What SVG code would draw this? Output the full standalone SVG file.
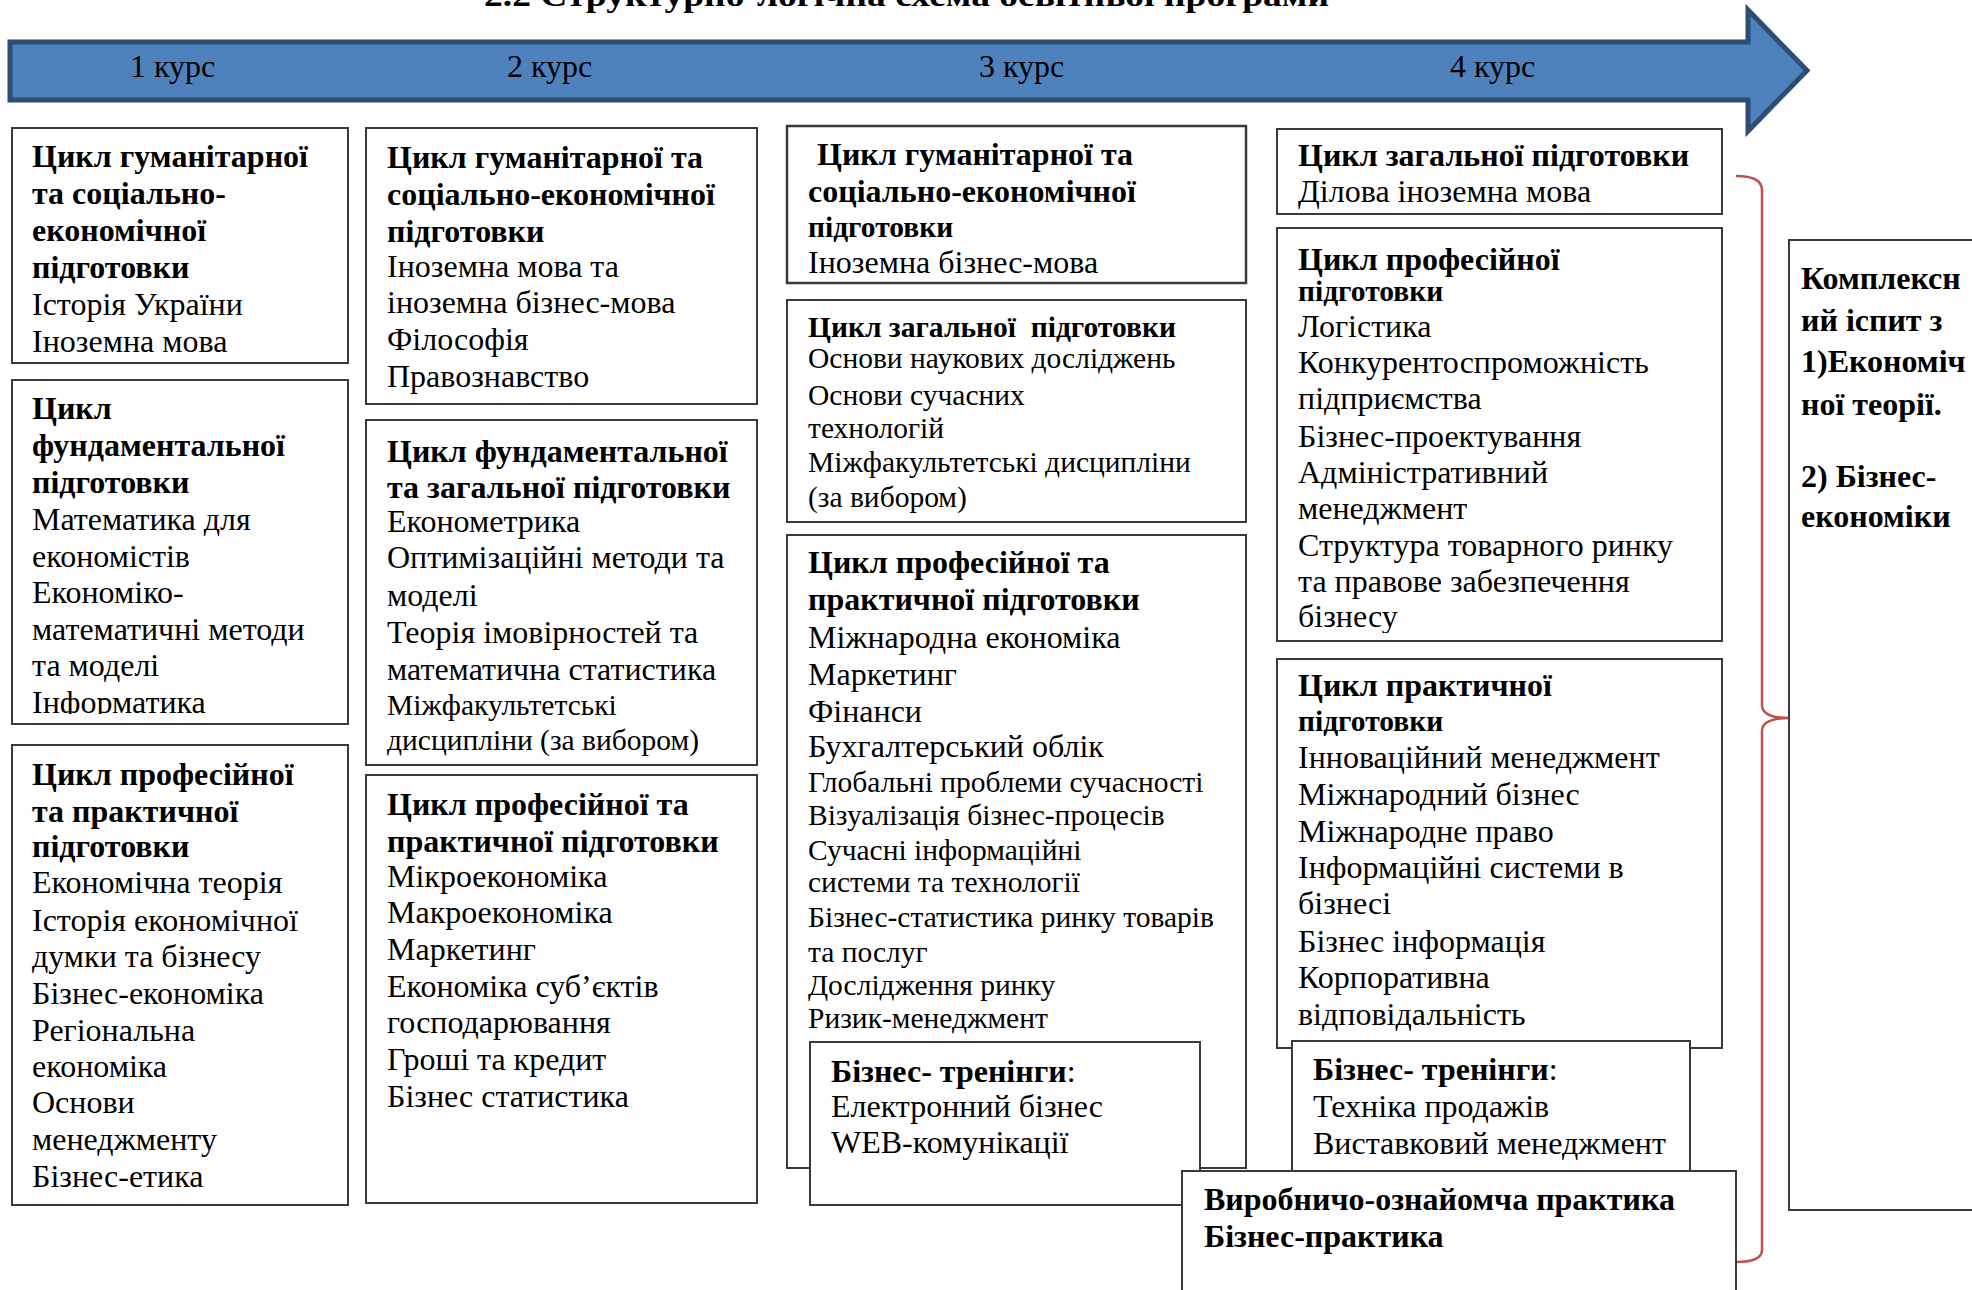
<svg xmlns="http://www.w3.org/2000/svg" width="1972" height="1290" viewBox="0 0 1972 1290">
<style>
.box{fill:#fff;stroke:#3a3a3a;stroke-width:2}
.t{font-family:"Liberation Serif","Times New Roman",serif;font-size:32px;fill:#000}
.b{font-weight:bold}
.s{font-size:29.5px}
.lbl{font-family:"Liberation Serif","Times New Roman",serif;font-size:32px;fill:#000}
</style>
<defs>
<clipPath id="clipA2"><rect x="12" y="380" width="336" height="334"/></clipPath>
<clipPath id="clipD2"><rect x="1277" y="228" width="445" height="405"/></clipPath>
</defs>
<rect x="0" y="0" width="1972" height="1290" fill="#fff"/>
<text class="t b" x="484" y="6" textLength="845" lengthAdjust="spacingAndGlyphs">2.2 Структурно-логічна схема освітньої програми</text>

<g id="arrow">
<polygon points="10,42 1748,42 1748,10 1807,70.5 1748,131 1748,100 10,100" fill="#4F81BD" stroke="#2C4D75" stroke-width="5"/>
<text class="lbl" x="130" y="77">1 курс</text>
<text class="lbl" x="507" y="77">2 курс</text>
<text class="lbl" x="979" y="77">3 курс</text>
<text class="lbl" x="1450" y="77">4 курс</text>
</g>

<g id="connectors">
<path d="M1736,176 Q1762,176 1762,190 L1762,705 Q1762,718 1789,718 Q1762,718 1762,731 L1762,1250 Q1762,1262 1736,1262" fill="none" stroke="#C0504D" stroke-width="2.5"/>
</g>

<g id="c1-hum">
<rect class="box" x="12" y="128" width="336" height="235"/>
<text class="t"><tspan class="b" x="32" y="167">Цикл гуманітарної</tspan><tspan class="b" x="32" y="204">та соціально-</tspan><tspan class="b" x="32" y="241">економічної</tspan><tspan class="b" x="32" y="278">підготовки</tspan><tspan x="32" y="315">Історія України</tspan><tspan x="32" y="352">Іноземна мова</tspan></text>
</g>

<g id="c1-fund">
<rect class="box" x="12" y="380" width="336" height="344"/>
<text class="t" clip-path="url(#clipA2)"><tspan class="b" x="32" y="419">Цикл</tspan><tspan class="b" x="32" y="456">фундаментальної</tspan><tspan class="b" x="32" y="493">підготовки</tspan><tspan x="32" y="530">Математика для</tspan><tspan x="32" y="567">економістів</tspan><tspan x="32" y="603">Економіко-</tspan><tspan x="32" y="640">математичні методи</tspan><tspan x="32" y="676">та моделі</tspan><tspan x="32" y="713">Інформатика</tspan></text>
</g>

<g id="c1-prof">
<rect class="box" x="12" y="745" width="336" height="460"/>
<text class="t"><tspan class="b" x="32" y="785">Цикл професійної</tspan><tspan class="b" x="32" y="822">та практичної</tspan><tspan class="b" x="32" y="857">підготовки</tspan><tspan x="32" y="893">Економічна теорія</tspan><tspan x="32" y="931">Історія економічної</tspan><tspan x="32" y="967">думки та бізнесу</tspan><tspan x="32" y="1004">Бізнес-економіка</tspan><tspan x="32" y="1041">Регіональна</tspan><tspan x="32" y="1077">економіка</tspan><tspan x="32" y="1113">Основи</tspan><tspan x="32" y="1150">менеджменту</tspan><tspan x="32" y="1187">Бізнес-етика</tspan></text>
</g>

<g id="c2-hum">
<rect class="box" x="366" y="128" width="391" height="276"/>
<text class="t"><tspan class="b" x="387" y="168">Цикл гуманітарної та</tspan><tspan class="b" x="387" y="205">соціально-економічної</tspan><tspan class="b" x="387" y="242">підготовки</tspan><tspan x="387" y="277">Іноземна мова та</tspan><tspan x="387" y="313">іноземна бізнес-мова</tspan><tspan x="387" y="350">Філософія</tspan><tspan x="387" y="387">Правознавство</tspan></text>
</g>

<g id="c2-fund">
<rect class="box" x="366" y="420" width="391" height="345"/>
<text class="t"><tspan class="b" x="387" y="462">Цикл фундаментальної</tspan><tspan class="b" x="387" y="498">та загальної підготовки</tspan><tspan x="387" y="532">Економетрика</tspan><tspan x="387" y="568">Оптимізаційні методи та</tspan><tspan x="387" y="606">моделі</tspan><tspan x="387" y="643">Теорія імовірностей та</tspan><tspan x="387" y="680">математична статистика</tspan><tspan class="s" x="387" y="715">Міжфакультетські</tspan><tspan class="s" x="387" y="750">дисципліни (за вибором)</tspan></text>
</g>

<g id="c2-prof">
<rect class="box" x="366" y="775" width="391" height="428"/>
<text class="t"><tspan class="b" x="387" y="815">Цикл професійної та</tspan><tspan class="b" x="387" y="852">практичної підготовки</tspan><tspan x="387" y="887">Мікроекономіка</tspan><tspan x="387" y="923">Макроекономіка</tspan><tspan x="387" y="960">Маркетинг</tspan><tspan x="387" y="997">Економіка суб’єктів</tspan><tspan x="387" y="1033">господарювання</tspan><tspan x="387" y="1070">Гроші та кредит</tspan><tspan x="387" y="1107">Бізнес статистика</tspan></text>
</g>

<g id="c3-hum">
<rect class="box" x="787" y="126" width="459" height="157" style="stroke-width:2.5"/>
<text class="t"><tspan class="b" x="817" y="165">Цикл гуманітарної та</tspan><tspan class="b" x="808" y="202">соціально-економічної</tspan><tspan class="b s" x="808" y="237">підготовки</tspan><tspan x="808" y="273">Іноземна бізнес-мова</tspan></text>
</g>

<g id="c3-gen">
<rect class="box" x="787" y="300" width="459" height="222"/>
<text class="t s" xml:space="preserve"><tspan class="b" x="808" y="337">Цикл загальної  підготовки</tspan><tspan x="808" y="368">Основи наукових досліджень</tspan><tspan x="808" y="405">Основи сучасних</tspan><tspan x="808" y="438">технологій</tspan><tspan x="808" y="472">Міжфакультетські дисципліни</tspan><tspan x="808" y="507">(за вибором)</tspan></text>
</g>

<g id="c3-prof">
<rect class="box" x="787" y="535" width="459" height="633"/>
<text class="t"><tspan class="b" x="808" y="573">Цикл професійної та</tspan><tspan class="b" x="808" y="610">практичної підготовки</tspan><tspan x="808" y="648">Міжнародна економіка</tspan><tspan x="808" y="685">Маркетинг</tspan><tspan x="808" y="722">Фінанси</tspan><tspan x="808" y="757">Бухгалтерський облік</tspan><tspan class="s" x="808" y="792">Глобальні проблеми сучасності</tspan><tspan class="s" x="808" y="825">Візуалізація бізнес-процесів</tspan><tspan class="s" x="808" y="860">Сучасні інформаційні</tspan><tspan class="s" x="808" y="892">системи та технології</tspan><tspan class="s" x="808" y="927">Бізнес-статистика ринку товарів</tspan><tspan class="s" x="808" y="962">та послуг</tspan><tspan class="s" x="808" y="995">Дослідження ринку</tspan><tspan class="s" x="808" y="1028">Ризик-менеджмент</tspan></text>
</g>

<g id="c3-train">
<rect class="box" x="810" y="1042" width="390" height="163"/>
<text class="t"><tspan class="b" x="831" y="1082">Бізнес- тренінги</tspan><tspan>:</tspan><tspan x="831" y="1117">Електронний бізнес</tspan><tspan x="831" y="1153">WEB-комунікації</tspan></text>
</g>

<g id="c4-gen">
<rect class="box" x="1277" y="129" width="445" height="85"/>
<text class="t"><tspan class="b" x="1298" y="166">Цикл загальної підготовки</tspan><tspan x="1298" y="202">Ділова іноземна мова</tspan></text>
</g>

<g id="c4-prof">
<rect class="box" x="1277" y="228" width="445" height="413"/>
<text class="t" clip-path="url(#clipD2)"><tspan class="b" x="1298" y="270">Цикл професійної</tspan><tspan class="b s" x="1298" y="301">підготовки</tspan><tspan x="1298" y="337">Логістика</tspan><tspan x="1298" y="373">Конкурентоспроможність</tspan><tspan x="1298" y="409">підприємства</tspan><tspan x="1298" y="447">Бізнес-проектування</tspan><tspan x="1298" y="483">Адміністративний</tspan><tspan x="1298" y="519">менеджмент</tspan><tspan x="1298" y="556">Структура товарного ринку</tspan><tspan x="1298" y="592">та правове забезпечення</tspan><tspan x="1298" y="627">бізнесу</tspan></text>
</g>

<g id="c4-pract">
<rect class="box" x="1277" y="659" width="445" height="389"/>
<text class="t"><tspan class="b" x="1298" y="696">Цикл практичної</tspan><tspan class="b s" x="1298" y="731">підготовки</tspan><tspan x="1298" y="768">Інноваційний менеджмент</tspan><tspan x="1298" y="805">Міжнародний бізнес</tspan><tspan x="1298" y="842">Міжнародне право</tspan><tspan x="1298" y="878">Інформаційні системи в</tspan><tspan x="1298" y="914">бізнесі</tspan><tspan x="1298" y="952">Бізнес інформація</tspan><tspan x="1298" y="988">Корпоративна</tspan><tspan x="1298" y="1025">відповідальність</tspan></text>
</g>

<g id="c4-train">
<rect class="box" x="1292" y="1041" width="398" height="150"/>
<text class="t"><tspan class="b" x="1313" y="1080">Бізнес- тренінги</tspan><tspan>:</tspan><tspan x="1313" y="1117">Техніка продажів</tspan><tspan x="1313" y="1154">Виставковий менеджмент</tspan></text>
</g>

<g id="practice">
<rect class="box" x="1182" y="1171" width="554" height="140"/>
<text class="t b"><tspan x="1204" y="1210">Виробничо-ознайомча практика</tspan><tspan x="1204" y="1247">Бізнес-практика</tspan></text>
</g>

<g id="exam">
<rect class="box" x="1789" y="240" width="200" height="970"/>
<text class="t b"><tspan x="1801" y="289">Комплексн</tspan><tspan x="1801" y="331">ий іспит з</tspan><tspan x="1801" y="372">1)Економіч</tspan><tspan x="1801" y="415">ної теорії.</tspan><tspan x="1801" y="487">2) Бізнес-</tspan><tspan x="1801" y="527">економіки</tspan></text>
</g>
</svg>
